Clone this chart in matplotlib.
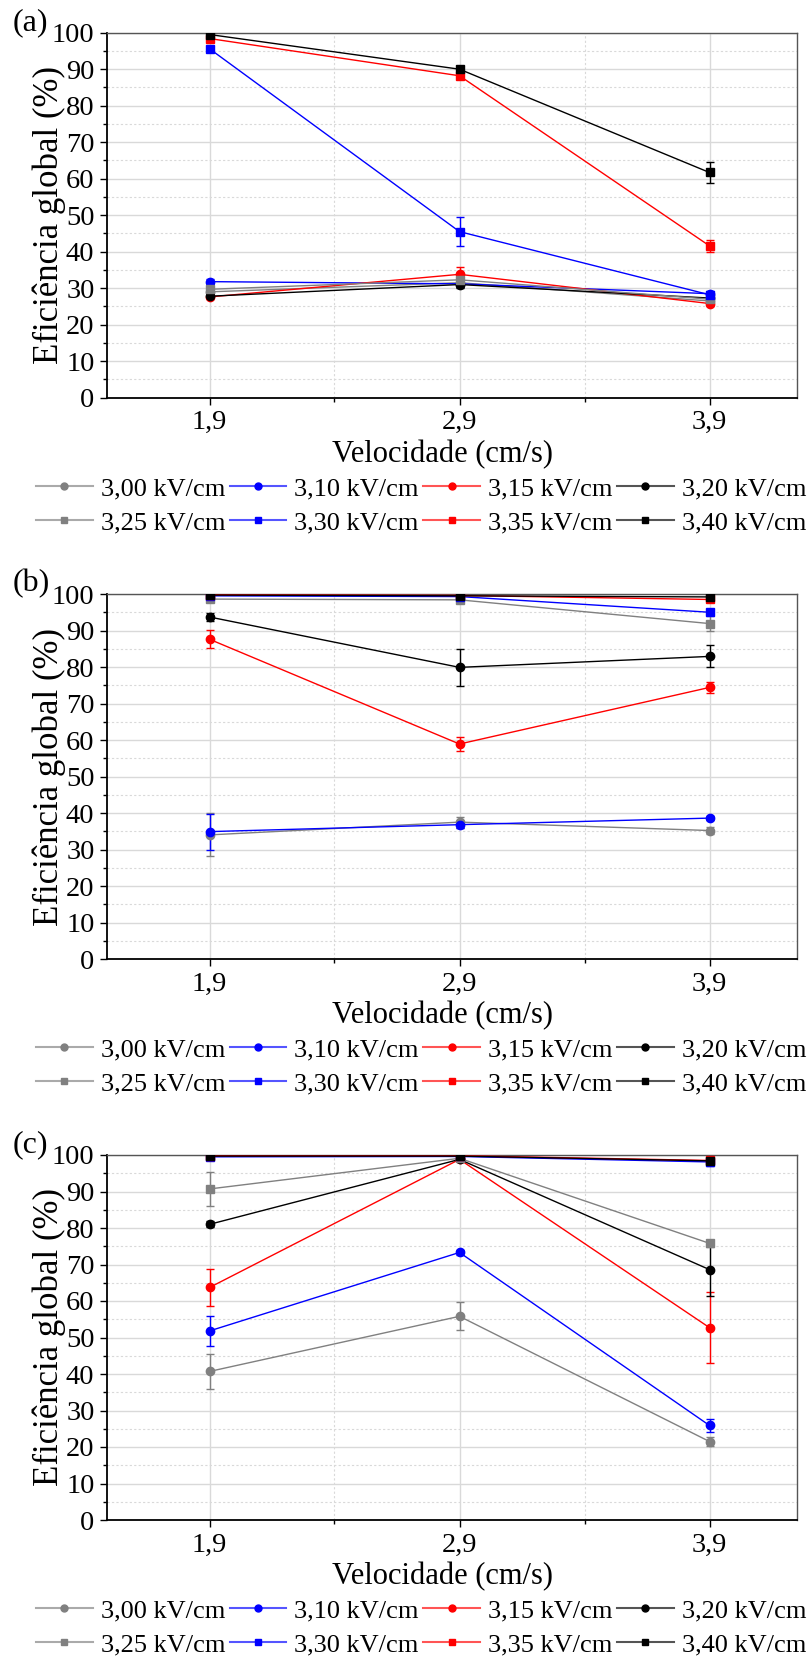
import matplotlib
matplotlib.use("Agg")
import matplotlib.pyplot as plt
from matplotlib.ticker import MultipleLocator, FixedLocator
from matplotlib.lines import Line2D

plt.rcParams['font.family'] = ['Liberation Serif', 'DejaVu Serif']
plt.rcParams['mathtext.fontset'] = 'stix'

# ---------------- data ----------------
speeds = [1.9, 2.9, 3.9]
speed_labels = ['1,9', '2,9', '3,9']
field_labels = ['3,00 kV/cm', '3,10 kV/cm', '3,15 kV/cm', '3,20 kV/cm',
                '3,25 kV/cm', '3,30 kV/cm', '3,35 kV/cm', '3,40 kV/cm']
panel_labels = ['(a)', '(b)', '(c)']

# panel (a)
a_300 = [29.0, 31.5, 26.5]; a_300_err = [0.6, 0.8, 0.5]
a_310 = [31.8, 31.2, 28.5]; a_310_err = [0.6, 0.8, 0.6]
a_315 = [27.6, 33.8, 25.8]; a_315_err = [0.5, 2.0, 0.6]
a_320 = [27.8, 31.0, 27.3]; a_320_err = [0.5, 1.0, 0.5]
a_325 = [29.7, 32.3, 27.0]; a_325_err = [1.0, 1.0, 0.6]
a_330 = [95.6, 45.5, 28.2]; a_330_err = [0.8, 4.0, 0.6]
a_335 = [98.4, 88.2, 41.6]; a_335_err = [0.8, 0.8, 1.7]
a_340 = [99.5, 90.0, 61.7]; a_340_err = [0.5, 0.8, 2.8]

# panel (b)
b_300 = [34.0, 37.5, 35.2]; b_300_err = [5.9, 1.5, 1.0]
b_310 = [34.9, 36.8, 38.6]; b_310_err = [4.9, 0.8, 0.6]
b_315 = [87.6, 58.9, 74.4]; b_315_err = [2.5, 2.0, 1.5]
b_320 = [93.7, 79.9, 82.9]; b_320_err = [1.2, 5.0, 3.0]
b_325 = [98.6, 98.4, 91.9]; b_325_err = [0.5, 0.5, 2.0]
b_330 = [99.5, 99.3, 95.0]; b_330_err = [0.3, 0.3, 0.6]
b_335 = [99.8, 99.6, 98.5]; b_335_err = [0.2, 0.3, 0.5]
b_340 = [99.7, 99.5, 99.2]; b_340_err = [0.2, 0.3, 0.3]

# panel (c)
c_300 = [40.7, 55.8, 21.5]; c_300_err = [4.8, 3.8, 1.2]
c_310 = [51.8, 73.3, 25.9]; c_310_err = [4.0, 0.8, 1.8]
c_315 = [63.7, 98.8, 52.7]; c_315_err = [5.2, 0.5, 9.7]
c_320 = [81.0, 98.8, 68.6]; c_320_err = [0.8, 0.5, 7.3]
c_325 = [90.7, 99.1, 75.8]; c_325_err = [4.7, 0.4, 1.0]
c_330 = [99.5, 99.6, 98.1]; c_330_err = [0.3, 0.3, 1.2]
c_335 = [99.8, 99.8, 98.5]; c_335_err = [0.2, 0.2, 0.5]
c_340 = [99.7, 99.7, 98.4]; c_340_err = [0.2, 0.2, 0.8]

panels = [
    ([a_300, a_310, a_315, a_320, a_325, a_330, a_335, a_340],
     [a_300_err, a_310_err, a_315_err, a_320_err, a_325_err, a_330_err, a_335_err, a_340_err]),
    ([b_300, b_310, b_315, b_320, b_325, b_330, b_335, b_340],
     [b_300_err, b_310_err, b_315_err, b_320_err, b_325_err, b_330_err, b_335_err, b_340_err]),
    ([c_300, c_310, c_315, c_320, c_325, c_330, c_335, c_340],
     [c_300_err, c_310_err, c_315_err, c_320_err, c_325_err, c_330_err, c_335_err, c_340_err]),
]

colors = ['#808080', '#0000ff', '#ff0000', '#000000',
          '#808080', '#0000ff', '#ff0000', '#000000']
markers = ['o', 'o', 'o', 'o', 's', 's', 's', 's']

# ---------------- figure ----------------
W, H = 809, 1659
fig = plt.figure(figsize=(W / 100, H / 100), dpi=100)

ax_left = 107 / W
ax_w = (797 - 107) / W
ax_h = 365 / H
tops = [32.7, 594.0, 1155.0]

FS_TICK = 20.5
FS_LEG = 19
FS_XLAB = 22
FS_YLAB = 25

# legend order so that rows read 3,00..3,20 then 3,25..3,40
leg_order = [0, 4, 1, 5, 2, 6, 3, 7]

for i, (series, errs) in enumerate(panels):
    top = tops[i]
    ax = fig.add_axes([ax_left, 1 - (top + 365) / H, ax_w, ax_h])
    for s, e, c, m, lab in zip(series, errs, colors, markers, field_labels):
        ax.errorbar(speeds, s, yerr=e, color=c, marker=m, ms=6,
                    lw=1.0, elinewidth=1.0, capsize=3, capthick=1.0,
                    zorder=3)
    ax.set_xlim(1.49, 4.25)
    ax.set_ylim(0, 100)
    ax.xaxis.set_major_locator(FixedLocator(speeds))
    ax.set_xticklabels(speed_labels)
    ax.xaxis.set_minor_locator(FixedLocator([2.4, 3.4]))
    ax.yaxis.set_major_locator(MultipleLocator(10))
    ax.yaxis.set_minor_locator(MultipleLocator(5))
    ax.grid(which='major', color='#d9d9d9', lw=1.0, ls='-', zorder=0)
    ax.grid(which='minor', color='#d9d9d9', lw=0.8, ls=(0, (2, 2)), zorder=0)
    ax.set_axisbelow(True)
    ax.tick_params(which='major', direction='out', length=5, width=1,
                   labelsize=FS_TICK, pad=4)
    ax.tick_params(which='minor', direction='out', length=3, width=1)
    for sp in ['left', 'bottom']:
        ax.spines[sp].set_linewidth(1.3)
        ax.spines[sp].set_color('#000000')
    for sp in ['top', 'right']:
        ax.spines[sp].set_linewidth(1.0)
        ax.spines[sp].set_color('#555555')
    ax.set_ylabel('Eficiência global (%)', fontsize=FS_YLAB)
    ax.yaxis.set_label_coords(-0.06, 0.5)
    ax.set_xlabel('Velocidade (cm/s)', fontsize=FS_XLAB)
    ax.xaxis.set_label_coords(0.486, -0.115)

    fig.text(13 / W, 1 - (top - 10) / H, panel_labels[i], fontsize=23,
             ha='left', va='center')

    proxies = [Line2D([], [], color=c + 'aa', marker=m, ms=5, lw=1.5,
                      markerfacecolor=c, markeredgecolor=c)
               for c, m in zip(colors, markers)]
    ax.legend(handles=[proxies[k] for k in leg_order],
              labels=[field_labels[k] for k in leg_order], ncol=4,
              loc='upper left', frameon=False, fontsize=FS_LEG,
              bbox_to_anchor=(36 / W, 1 - (top + 365 + 79) / H),
              bbox_transform=fig.transFigure,
              handlelength=2.15, handletextpad=0.3, columnspacing=0.17,
              labelspacing=0.4, borderpad=0, borderaxespad=0)

fig.savefig('out.png', dpi=100)
